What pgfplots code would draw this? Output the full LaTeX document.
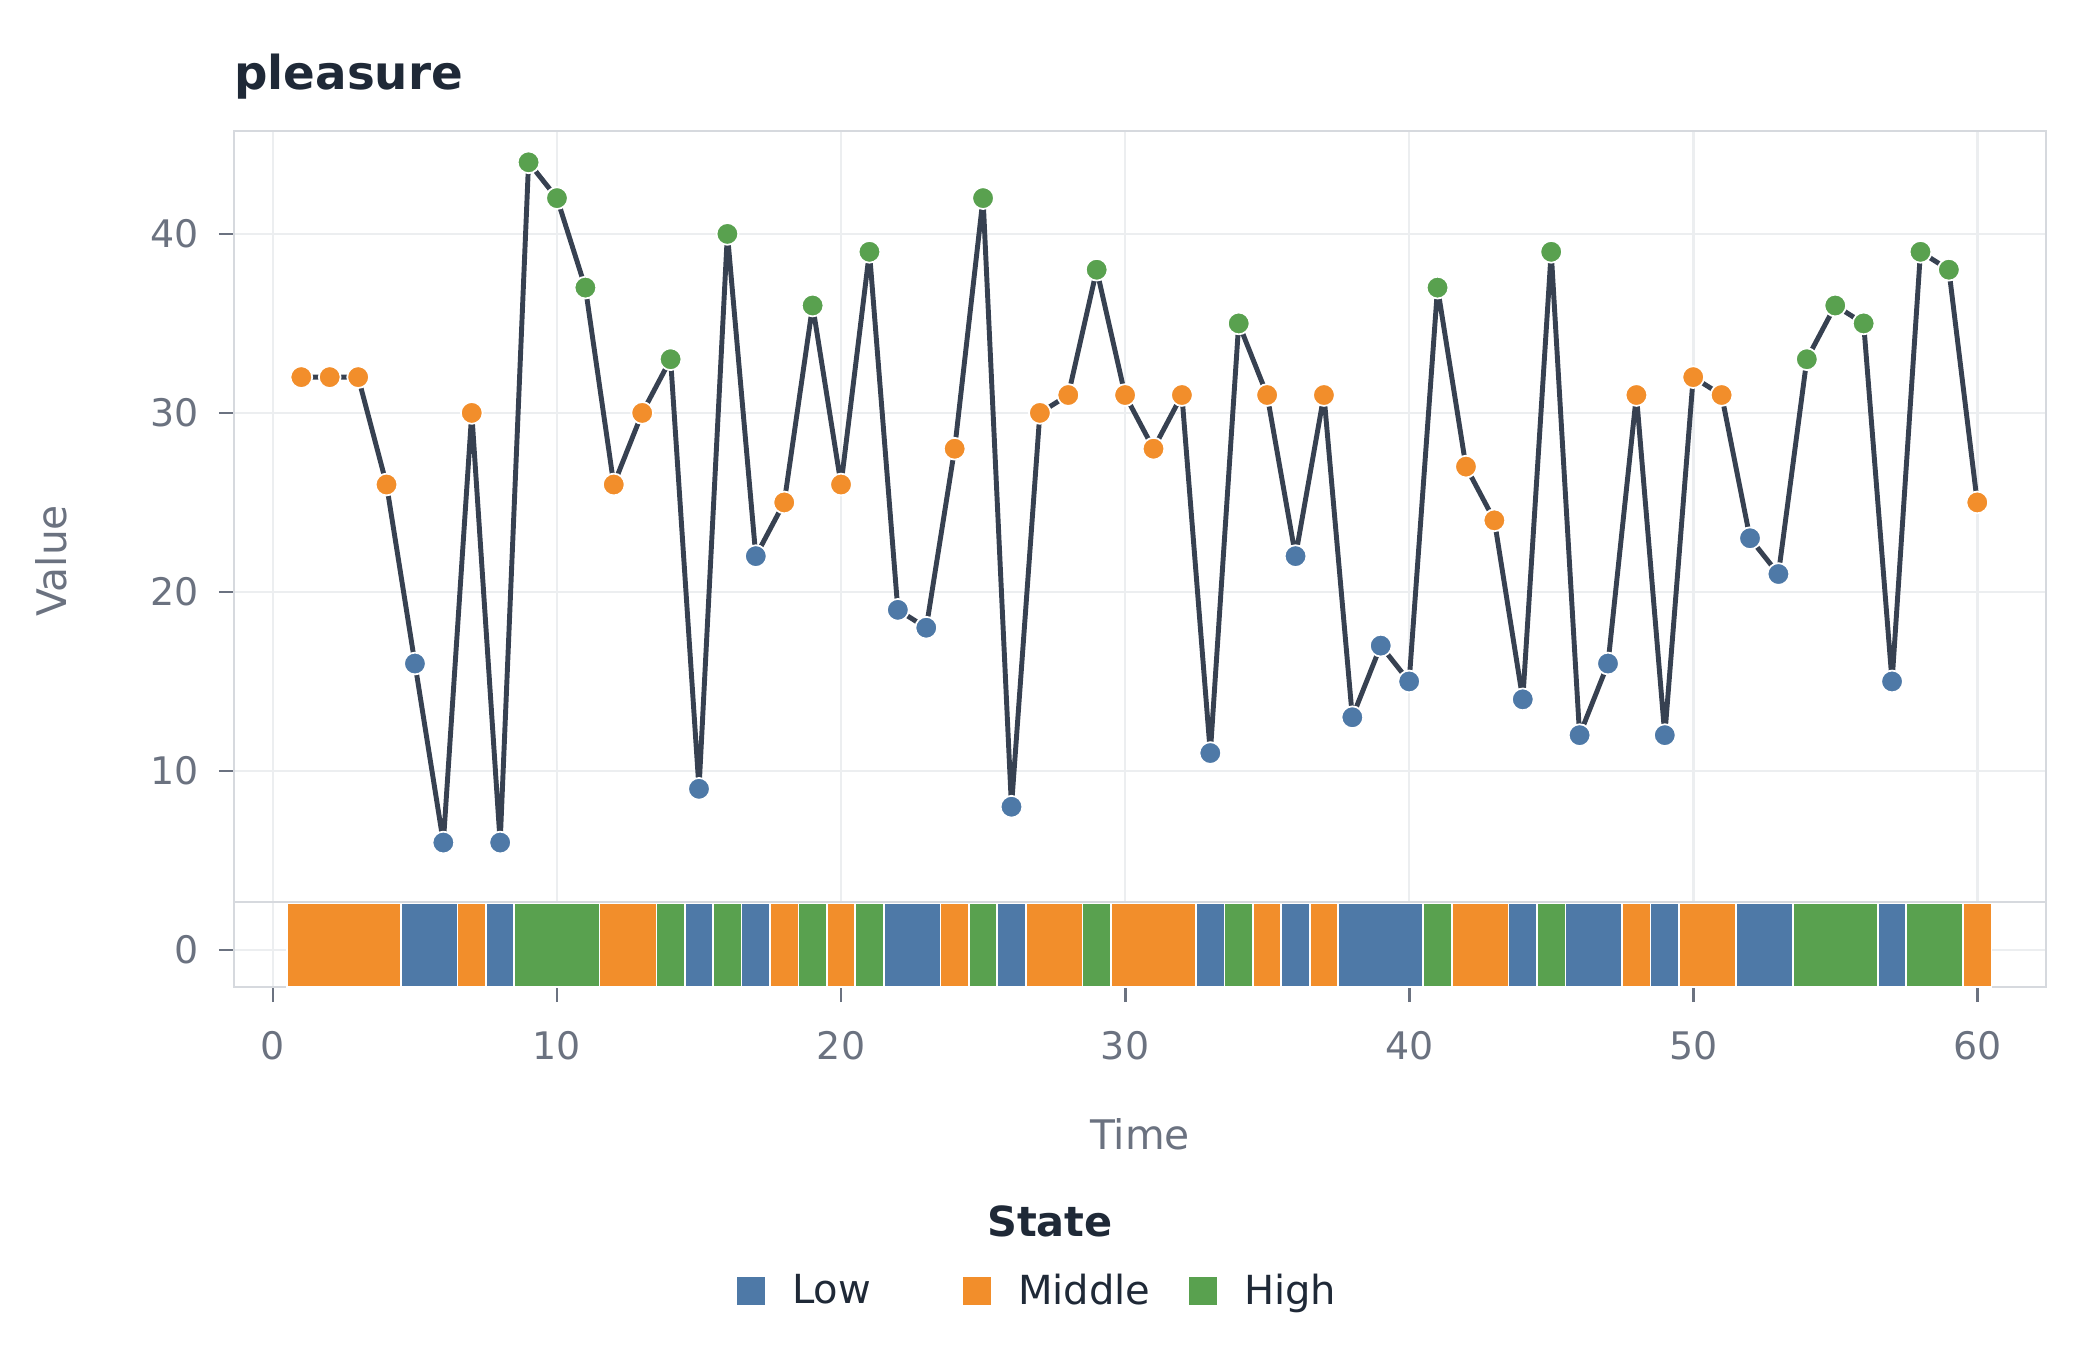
\documentclass[border=0pt]{standalone}
\usepackage{pgfplots}
\pgfplotsset{compat=1.18}
\usepackage{pgfplotstable}
\usepackage{fontspec}
\setmainfont{DejaVu Sans}
\setsansfont{DejaVu Sans}

\definecolor{lowc}{HTML}{4E79A7}
\definecolor{midc}{HTML}{F28E2B}
\definecolor{highc}{HTML}{59A14F}
\definecolor{linec}{HTML}{374151}
\definecolor{gridc}{HTML}{ECEEF0}
\definecolor{borderc}{HTML}{D6D9DE}
\definecolor{tickc}{HTML}{6B7280}
\definecolor{textc}{HTML}{1F2937}

% time, value, state (L = Low, M = Middle, H = High)
\pgfplotstableread{
t v s
1 32 M
2 32 M
3 32 M
4 26 M
5 16 L
6 6 L
7 30 M
8 6 L
9 44 H
10 42 H
11 37 H
12 26 M
13 30 M
14 33 H
15 9 L
16 40 H
17 22 L
18 25 M
19 36 H
20 26 M
21 39 H
22 19 L
23 18 L
24 28 M
25 42 H
26 8 L
27 30 M
28 31 M
29 38 H
30 31 M
31 28 M
32 31 M
33 11 L
34 35 H
35 31 M
36 22 L
37 31 M
38 13 L
39 17 L
40 15 L
41 37 H
42 27 M
43 24 M
44 14 L
45 39 H
46 12 L
47 16 L
48 31 M
49 12 L
50 32 M
51 31 M
52 23 L
53 21 L
54 33 H
55 36 H
56 35 H
57 15 L
58 39 H
59 38 H
60 25 M
}\pleasure

% one block of the state strip: from, to, colour
\newcommand{\run}[3]{%
  \addplot[fill=#3, draw=white, line width=0.5pt, forget plot]
    coordinates {(#1,-2.07) (#2,-2.07) (#2,2.62) (#1,2.62)} -- cycle;}

\begin{document}
\begin{tikzpicture}
\path[use as bounding box] (0,0) rectangle (210mm,135mm);

\begin{axis}[
  at={(23.4mm,36.3mm)}, anchor=south west,
  scale only axis,
  width=181.2mm, height=85.6mm,
  xmin=-1.37, xmax=62.42,
  ymin=-2.07, ymax=45.75,
  enlargelimits=false,
  xtick={0,10,...,60},
  ytick={0,10,...,40},
  xtick pos=bottom, ytick pos=left,
  tick align=outside,
  major tick length=1.5mm,
  tick style={color=tickc, line width=0.8pt},
  grid=major,
  major grid style={color=gridc, line width=0.75pt},
  axis line style={color=borderc, line width=0.8pt},
  /pgf/number format/assume math mode=true,
  ticklabel style={font=\fontsize{10.8}{13}\selectfont, text=tickc},
  xticklabel style={yshift=-1.7mm},
  yticklabel style={xshift=-0.8mm},
  legend image code/.code={\fill[#1, draw=none] (0mm,-1.4mm) rectangle (2.8mm,1.4mm);},
  legend style={at={(0.2776,-0.3557)}, anchor=west, draw=none, fill=none,
    inner sep=0pt, outer sep=0pt, nodes={inner sep=0pt},
    font=\fontsize{11.4}{14}\selectfont, text=textc,
    /tikz/column sep=0pt,
    /tikz/every odd column/.append style={column sep=2.7mm}},
  legend columns=3,
  legend cell align=left,
]
\run{0.5}{4.5}{midc}
\run{4.5}{6.5}{lowc}
\run{6.5}{7.5}{midc}
\run{7.5}{8.5}{lowc}
\run{8.5}{11.5}{highc}
\run{11.5}{13.5}{midc}
\run{13.5}{14.5}{highc}
\run{14.5}{15.5}{lowc}
\run{15.5}{16.5}{highc}
\run{16.5}{17.5}{lowc}
\run{17.5}{18.5}{midc}
\run{18.5}{19.5}{highc}
\run{19.5}{20.5}{midc}
\run{20.5}{21.5}{highc}
\run{21.5}{23.5}{lowc}
\run{23.5}{24.5}{midc}
\run{24.5}{25.5}{highc}
\run{25.5}{26.5}{lowc}
\run{26.5}{28.5}{midc}
\run{28.5}{29.5}{highc}
\run{29.5}{32.5}{midc}
\run{32.5}{33.5}{lowc}
\run{33.5}{34.5}{highc}
\run{34.5}{35.5}{midc}
\run{35.5}{36.5}{lowc}
\run{36.5}{37.5}{midc}
\run{37.5}{40.5}{lowc}
\run{40.5}{41.5}{highc}
\run{41.5}{43.5}{midc}
\run{43.5}{44.5}{lowc}
\run{44.5}{45.5}{highc}
\run{45.5}{47.5}{lowc}
\run{47.5}{48.5}{midc}
\run{48.5}{49.5}{lowc}
\run{49.5}{51.5}{midc}
\run{51.5}{53.5}{lowc}
\run{53.5}{56.5}{highc}
\run{56.5}{57.5}{lowc}
\run{57.5}{59.5}{highc}
\run{59.5}{60.5}{midc}

% border between the two panels
\draw[borderc, line width=0.8pt] (axis cs:-1.37,2.68) -- (axis cs:62.42,2.68);

\addplot[color=linec, line width=1.4pt, line join=round, mark=none, forget plot]
  table[x=t, y=v] {\pleasure};
\addplot[scatter, only marks, forget plot,
  scatter src=explicit symbolic,
  mark size=3.1pt,
  scatter/classes={
    L={mark=*, draw=white, fill=lowc, line width=0.5pt},
    M={mark=*, draw=white, fill=midc, line width=0.5pt},
    H={mark=*, draw=white, fill=highc, line width=0.5pt}}]
  table[x=t, y=v, meta=s] {\pleasure};

\addlegendimage{fill=lowc}
\addlegendentry{\makebox[17.1mm][l]{Low}}
\addlegendimage{fill=midc}
\addlegendentry{\makebox[17.1mm][l]{Middle}}
\addlegendimage{fill=highc}
\addlegendentry{High}
\end{axis}

\node[anchor=base west, text=textc, font=\fontsize{13.3}{16}\selectfont\bfseries]
  at (22.2mm,126.0mm) {pleasure};
\node[anchor=base, text=tickc, font=\fontsize{11.6}{14}\selectfont]
  at (114.0mm,20.0mm) {Time};
\node[anchor=base, rotate=90, text=tickc, font=\fontsize{11.6}{14}\selectfont]
  at (6.7mm,78.9mm) {Value};
\node[anchor=base, text=textc, font=\fontsize{11.8}{14}\selectfont\bfseries]
  at (105.0mm,11.3mm) {State};
\end{tikzpicture}
\end{document}
